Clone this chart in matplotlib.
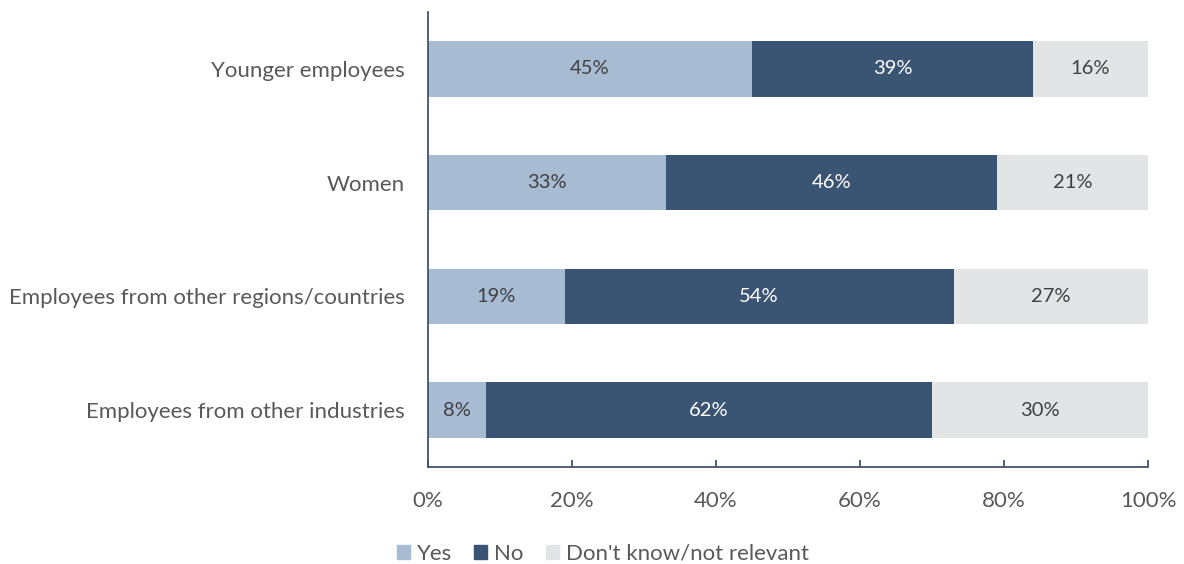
import matplotlib.pyplot as plt
from matplotlib.patches import Patch

categories = ['Younger employees', 'Women', 'Employees from other regions/countries',
              'Employees from other industries']
yes = [45, 33, 19, 8]
no = [39, 46, 54, 62]
dont_know = [16, 21, 27, 30]

c_yes = '#A7BBD3'
c_no = '#3A5573'
c_dk = '#E3E4E6'
axis_col = '#44546A'
text_col = '#595959'

plt.rcParams['font.family'] = ['Lato', 'DejaVu Sans']

fig = plt.figure(figsize=(11.84, 5.64), dpi=100)
ax = fig.add_axes([428 / 1184, 97 / 564, 720 / 1184, 455 / 564])

y = list(range(len(categories)))
h = 0.49
left_no = yes
left_dk = [a + b for a, b in zip(yes, no)]

ax.barh(y, yes, height=h, color=c_yes)
ax.barh(y, no, left=left_no, height=h, color=c_no)
ax.barh(y, dont_know, left=left_dk, height=h, color=c_dk)

fs_val = 14.5
for i in y:
    ax.text(yes[i] / 2, i, f'{yes[i]}%', ha='center', va='center', fontsize=fs_val, color='#404040')
    ax.text(left_no[i] + no[i] / 2, i, f'{no[i]}%', ha='center', va='center', fontsize=fs_val, color='white')
    ax.text(left_dk[i] + dont_know[i] / 2, i, f'{dont_know[i]}%', ha='center', va='center', fontsize=fs_val, color='#404040')

ax.set_xlim(0, 100)
ax.set_ylim(len(categories) - 0.5, -0.5)
ax.set_yticks(y)
ax.set_yticklabels(categories)
ax.set_xticks(range(0, 101, 20))
ax.set_xticklabels([f'{v}%' for v in range(0, 101, 20)])

for s in ['top', 'right']:
    ax.spines[s].set_visible(False)
for s in ['left', 'bottom']:
    ax.spines[s].set_color(axis_col)
    ax.spines[s].set_linewidth(1.3)
ax.tick_params(axis='y', length=0, pad=16.5, labelsize=16, labelcolor=text_col)
ax.tick_params(axis='x', direction='in', length=5, width=1.3, color=axis_col, pad=17,
               labelsize=16, labelcolor=text_col)

handles = [Patch(color=c_yes, label='Yes'), Patch(color=c_no, label='No'),
           Patch(color=c_dk, label="Don't know/not relevant")]
fig.legend(handles=handles, loc='lower center', bbox_to_anchor=(0.509, -0.035), ncol=3,
           frameon=False, fontsize=16, labelcolor=text_col, handlelength=0.6,
           handleheight=0.6, handletextpad=0.3, columnspacing=1.0)

fig.savefig('out.png', dpi=100)
